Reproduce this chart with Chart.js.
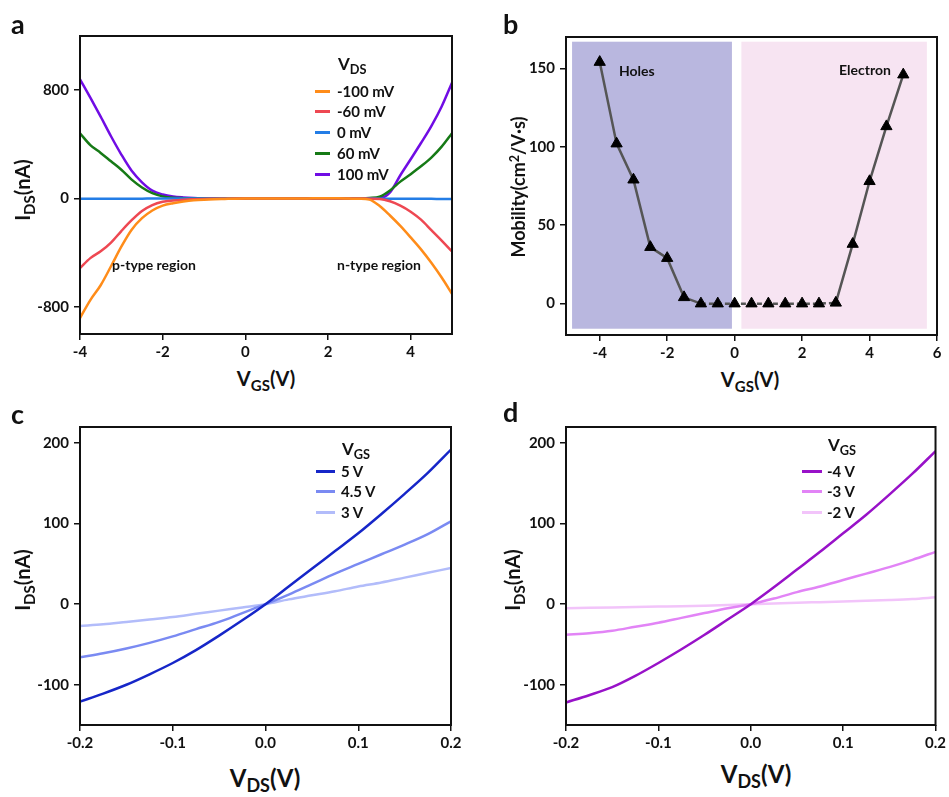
<!DOCTYPE html>
<html>
<head>
<meta charset="utf-8">
<script src="https://cdn.jsdelivr.net/npm/chart.js@4.4.1/dist/chart.umd.min.js"></script>
<style>
  body { margin: 0; background: #fff; }
  #fig { position: relative; width: 949px; height: 797px; background: #fff; font-family: Lato, "Open Sans", sans-serif; font-weight: bold; color: #111; }
  #fig canvas { position: absolute; }
  .txt { position: absolute; white-space: nowrap; line-height: 1; }
  .ctr { transform: translate(-50%, -50%); }
  .rot { transform: translate(-50%, -50%) rotate(-90deg); }
  sub { font-size: 0.75em; vertical-align: -0.3em; line-height: 0; }
  sup { font-size: 0.7em; vertical-align: 0.5em; line-height: 0; }
  .leg { position: absolute; font-size: 15px; line-height: 1; }
  .leg .row { position: absolute; white-space: nowrap; }
  .leg .sw { position: absolute; height: 3px; }
</style>
</head>
<body>
<div id="fig">
  <canvas id="ca" width="470" height="362" style="left:0;top:0"></canvas>
  <canvas id="cb" width="479" height="362" style="left:470px;top:0"></canvas>
  <canvas id="cc" width="470" height="362" style="left:0;top:395px"></canvas>
  <canvas id="cd" width="479" height="362" style="left:470px;top:395px"></canvas>

  <div class="txt" style="left:11px;top:10px;font-size:27px">a</div>
  <div class="txt" style="left:503px;top:10px;font-size:27px">b</div>
  <div class="txt" style="left:11px;top:400px;font-size:27px">c</div>
  <div class="txt" style="left:503px;top:398px;font-size:27px">d</div>

  <div class="txt rot" style="left:22px;top:190px;font-size:20px">I<sub>DS</sub>(nA)</div>
  <div class="txt ctr" style="left:266px;top:378px;font-size:20px">V<sub>GS</sub>(V)</div>
  <div class="txt" style="left:112px;top:258px;font-size:14px">p-type region</div>
  <div class="txt" style="left:337px;top:258px;font-size:14px">n-type region</div>

  <div class="txt rot" style="left:518px;top:187px;font-size:18px">Mobility(cm<sup>2</sup>/V·s)</div>
  <div class="txt ctr" style="left:750px;top:379px;font-size:20px">V<sub>GS</sub>(V)</div>
  <div class="txt" style="left:619px;top:64px;font-size:14px">Holes</div>
  <div class="txt" style="left:839px;top:63px;font-size:14px">Electron</div>

  <div class="txt rot" style="left:22px;top:580px;font-size:20px">I<sub>DS</sub>(nA)</div>
  <div class="txt ctr" style="left:265px;top:778px;font-size:24px">V<sub>DS</sub>(V)</div>

  <div class="txt rot" style="left:512px;top:580px;font-size:20px">I<sub>DS</sub>(nA)</div>
  <div class="txt ctr" style="left:756px;top:774px;font-size:24px">V<sub>DS</sub>(V)</div>

  <div class="leg" id="lega" style="left:315px;top:55px"></div>
  <div class="leg" id="legc" style="left:316px;top:440px"></div>
  <div class="leg" id="legd" style="left:802px;top:436px"></div>
</div>
<script>
// ---- panel a: transfer curves, I_DS vs V_GS ----
const vgsA = [-4, -3.75, -3.5, -3.25, -3, -2.75, -2.5, -2.25, -2, -1.75, -1.5, -1.25, -1, -0.75, -0.5, -0.25,
  0, 0.25, 0.5, 0.75, 1, 1.25, 1.5, 1.75, 2, 2.25, 2.5, 2.75, 3, 3.25, 3.5, 3.75, 4, 4.25, 4.5, 4.75, 5];
const namesA = ['-100 mV', '-60 mV', '0 mV', '60 mV', '100 mV'];
const colorsA = ['rgb(255,140,25)', 'rgb(238,72,82)', 'rgb(35,125,230)', 'rgb(22,122,22)', 'rgb(112,12,228)'];
const idsM100 = [-882, -750, -640, -500, -355, -230, -145, -88, -52, -34, -22, -13, -8, -5, -3, -1,
  0, 0, 0, 0, 0, 0, 1, 2, 3, 2, 0, -2, -8, -55, -125, -202, -287, -375, -474, -583, -703];
const idsM60 = [-514, -440, -390, -325, -240, -160, -92, -48, -24, -14, -8, -5, -3, -2, -1, 0,
  0, 0, 0, 0, 0, 0, 0, 0, 0, 0, 0, 0, -1, -3, -20, -52, -97, -156, -233, -310, -391];
const ids0 = [-2, -2, -2, -1, -1, -1, -1, 0, 0, 0, 0, 0, 0, 0, 0, 0,
  0, 0, 0, 0, 0, 0, 0, 0, 0, 0, 0, 0, 0, -1, -1, -1, -2, -2, -2, -3, -3];
const ids60 = [482, 395, 337, 275, 213, 140, 82, 40, 16, 6, 3, 1, 0, 0, 0, 0,
  0, 0, 0, 0, 0, 0, 0, 0, 0, 0, 0, 1, 4, 14, 60, 125, 180, 238, 302, 383, 482];
const ids100 = [880, 745, 605, 460, 325, 205, 120, 58, 30, 15, 8, 4, 2, 1, 0, 0,
  0, 0, 0, 0, 0, 0, 0, 0, 0, 0, 0, 0, 0, 3, 45, 172, 290, 410, 535, 680, 855];
const seriesA = [idsM100, idsM60, ids0, ids60, ids100];
const xTicksA = [-4, -2, 0, 2, 4];
const yTicksA = [-800, 0, 800];

// ---- panel b: mobility vs V_GS ----
const vgsB = [-4, -3.5, -3, -2.5, -2, -1.5, -1, -0.5, 0, 0.5, 1, 1.5, 2, 2.5, 3, 3.5, 4, 4.5, 5];
const mobility = [154, 102, 79, 36, 29, 4, 0, 0, 0, 0, 0, 0, 0, 0, 0.5, 38, 78, 113, 146];
const regionsB = [[-4.82, -0.08, -16, 167], [0.2, 5.7, -16, 167]]; // xmin, xmax, ymin, ymax
const regionColors = ['rgb(185,183,223)', 'rgb(247,228,242)'];
const xTicksB = [-4, -2, 0, 2, 4, 6];
const yTicksB = [0, 50, 100, 150];

// ---- panels c, d: output curves, I_DS vs V_DS ----
const vds = [-0.2, -0.175, -0.15, -0.125, -0.1, -0.075, -0.05, -0.025, 0, 0.025, 0.05, 0.075, 0.1, 0.125, 0.15, 0.175, 0.2];
const namesC = ['5 V', '4.5 V', '3 V'];
const colorsC = ['rgb(22,38,200)', 'rgb(122,138,242)', 'rgb(178,188,250)'];
const ids5 = [-121, -111, -100, -87, -73, -57, -39, -20, 0, 22, 44, 66, 88, 112, 137, 163, 192];
const ids45 = [-66, -61, -55, -48, -40, -31, -22, -11, 0, 12, 25, 38, 50, 62, 74, 87, 103];
const ids3 = [-27, -25, -22, -19, -16, -12, -8, -4, 0, 6, 11, 16, 22, 27, 33, 39, 45];
const namesD = ['-4 V', '-3 V', '-2 V'];
const colorsD = ['rgb(152,18,200)', 'rgb(226,132,246)', 'rgb(242,196,250)'];
const idsN4 = [-122, -113, -103, -89, -73, -56, -38, -19, 0, 21, 43, 65, 88, 111, 136, 162, 190];
const idsN3 = [-38, -36, -33, -28, -23, -17, -11, -5, 0, 7, 15, 22, 30, 38, 46, 55, 65];
const idsN2 = [-5, -4.5, -4, -3.5, -3, -2.5, -1.8, -1, 0, 1, 1.8, 2.5, 3.2, 4.2, 5.2, 6.5, 8.5];
const xTicksCD = [-0.2, -0.1, 0, 0.1, 0.2];
const yTicksCD = [-100, 0, 100, 200];

const tickFont = { family: 'Lato, "Open Sans", sans-serif', size: 15, weight: 'bold' };

// draws the box round the plot area
const frame = {
  id: 'frame',
  afterDraw(chart) {
    const { ctx, chartArea: a } = chart;
    ctx.save();
    ctx.strokeStyle = '#111';
    ctx.lineWidth = 2;
    ctx.strokeRect(a.left, a.top, a.right - a.left, a.bottom - a.top);
    ctx.restore();
  }
};

// shaded hole / electron regions for panel b
const shade = {
  id: 'shade',
  beforeDatasetsDraw(chart) {
    const { ctx, scales: { x, y } } = chart;
    ctx.save();
    regionsB.forEach((r, i) => {
      const x0 = x.getPixelForValue(r[0]), x1 = x.getPixelForValue(r[1]);
      const y0 = y.getPixelForValue(r[3]), y1 = y.getPixelForValue(r[2]);
      ctx.fillStyle = regionColors[i];
      ctx.fillRect(x0, y0, x1 - x0, y1 - y0);
    });
    ctx.restore();
  }
};

function axis(min, max, ticks, size, fmt, horiz) {
  return {
    type: 'linear', min, max,
    afterBuildTicks: s => { s.ticks = ticks.map(v => ({ value: v })); },
    afterFit: s => { if (horiz) s.height = size; else s.width = size; },
    border: { display: false },
    grid: { drawOnChartArea: false, drawTicks: true, tickLength: 6, color: '#111', lineWidth: 1.5 },
    ticks: { color: '#111', font: tickFont, padding: horiz ? 3 : 5, maxRotation: 0, autoSkip: false,
      callback: fmt || (v => String(v)) }
  };
}

function makeChart(id, datasets, xa, ya, pad, plugins) {
  return new Chart(document.getElementById(id), {
    type: 'line',
    data: { datasets },
    options: {
      responsive: false,
      animation: false,
      layout: { padding: pad },
      plugins: { legend: { display: false }, tooltip: { enabled: false } },
      scales: { x: xa, y: ya }
    },
    plugins: [frame].concat(plugins || [])
  });
}

function curves(xs, list, colors) {
  return list.map((ys, i) => ({
    data: xs.map((x, j) => ({ x, y: ys[j] })),
    borderColor: colors[i],
    borderWidth: 2.5,
    pointRadius: 0,
    cubicInterpolationMode: 'monotone'
  }));
}

// panel a
makeChart('ca', curves(vgsA, seriesA, colorsA),
  axis(-4, 5, xTicksA, 28, null, true),
  axis(-1000, 1200, yTicksA, 80, null, false),
  { top: 36, right: 18, left: 0, bottom: 0 });

// panel b
makeChart('cb', [{
    data: vgsB.map((x, j) => ({ x, y: mobility[j] })),
    borderColor: 'rgb(85,85,85)',
    borderWidth: 2.5,
    tension: 0,
    pointStyle: 'triangle',
    pointRadius: 6.5,
    pointBackgroundColor: '#000',
    pointBorderColor: '#000',
    pointBorderWidth: 1,
    segment: { borderDash: c => (c.p0.parsed.x >= -1 && c.p1.parsed.x <= 3) ? [5, 3] : undefined }
  }],
  axis(-5, 6, xTicksB, 27, null, true),
  axis(-20, 170, yTicksB, 96, null, false),
  { top: 37, right: 12, left: 0, bottom: 0 }, [shade]);

// panels c, d
const fmt1 = v => v.toFixed(1);
makeChart('cc', curves(vds, [ids5, ids45, ids3], colorsC),
  axis(-0.2, 0.2, xTicksCD, 32, fmt1, true),
  axis(-150, 220, yTicksCD, 80, null, false),
  { top: 32, right: 19, left: 0, bottom: 0 });
makeChart('cd', curves(vds, [idsN4, idsN3, idsN2], colorsD),
  axis(-0.2, 0.2, xTicksCD, 32, fmt1, true),
  axis(-150, 220, yTicksCD, 96, null, false),
  { top: 32, right: 12, left: 0, bottom: 0 });

// legends built from the series names and colours
function legend(id, title, names, colors, step, swW, txtX, firstY) {
  const el = document.getElementById(id);
  let html = '<div class="row" style="left:' + (txtX + 1) + 'px;top:0;font-size:17px">V<sub>' + title + '</sub></div>';
  names.forEach((n, i) => {
    const y = firstY + i * step;
    html += '<div class="sw" style="left:0;top:' + (y - 1.5) + 'px;width:' + swW + 'px;background:' + colors[i] + '"></div>';
    html += '<div class="row" style="left:' + txtX + 'px;top:' + (y - 7.5) + 'px">' + n + '</div>';
  });
  el.innerHTML = html;
}
legend('lega', 'DS', namesA, colorsA, 20.8, 15, 22, 36);
legend('legc', 'GS', namesC, colorsC, 20.6, 19, 25, 31);
legend('legd', 'GS', namesD, colorsD, 20.6, 20, 25, 35);
</script>
</body>
</html>
